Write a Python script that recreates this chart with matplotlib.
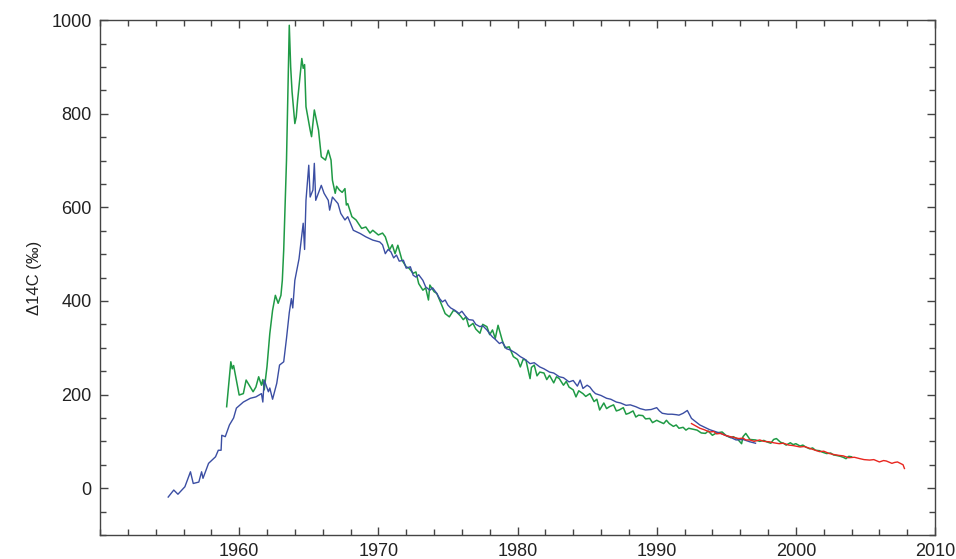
"""
Atmospheric bomb radiocarbon (Delta 14C) record, 1955-2008.
Three station records drawn as thin lines on a boxed axis.
"""

import matplotlib
matplotlib.use("Agg")
import matplotlib.pyplot as plt
from matplotlib.ticker import MultipleLocator

# Blue record
blue_years = [1954.9, 1955.3, 1955.6, 1956.1, 1956.5, 1956.7, 1957.1, 1957.3, 1957.4, 1957.8,
              1958.3, 1958.5, 1958.7, 1958.75, 1959.0, 1959.3, 1959.6, 1959.8, 1960.3, 1960.8,
              1961.2, 1961.6, 1961.7, 1961.8, 1962.1, 1962.2, 1962.4, 1962.7, 1962.9, 1963.2,
              1963.4, 1963.6, 1963.75, 1963.85, 1964.0, 1964.3, 1964.5, 1964.6, 1964.7, 1964.8,
              1965.0, 1965.1, 1965.3, 1965.4, 1965.5, 1965.9, 1966.1, 1966.4, 1966.5, 1966.7,
              1967.1, 1967.3, 1967.6, 1967.8, 1968.2, 1968.7, 1969.1, 1969.6,
              1970.1, 1970.3, 1970.5, 1970.7, 1970.9, 1971.1, 1971.3, 1971.5, 1971.8, 1972.0,
              1972.3, 1972.5, 1972.7, 1972.9, 1973.2, 1973.4, 1973.7, 1973.9, 1974.2, 1974.4,
              1974.6, 1974.8, 1975.0, 1975.2, 1975.5, 1975.8, 1976.0, 1976.3, 1976.5, 1976.8,
              1977.0, 1977.3, 1977.5, 1977.8, 1978.0, 1978.2, 1978.4, 1978.7, 1978.9, 1979.2,
              1979.5, 1979.9, 1980.2, 1980.5, 1980.9, 1981.2, 1981.6, 1981.9, 1982.3, 1982.6,
              1983.0, 1983.3, 1983.7, 1984.0, 1984.3, 1984.5, 1984.7, 1985.0, 1985.2, 1985.4,
              1985.6, 1986.0, 1986.4, 1986.7, 1987.1, 1987.4, 1987.8, 1988.1, 1988.5, 1988.8,
              1989.2, 1989.6, 1990.0, 1990.2, 1990.4, 1990.8, 1991.1, 1991.4, 1991.6, 1991.9,
              1992.2, 1992.5, 1992.8, 1993.1, 1993.8, 1994.5, 1995.2, 1995.7, 1996.2, 1996.7,
              1997.1]
blue_vals = [-19, -4, -13, 3, 35, 10, 13, 35, 21, 53,
             67, 81, 81, 113, 110, 135, 150, 171, 184, 192,
             195, 202, 184, 231, 206, 214, 190, 224, 263, 270,
             320, 375, 405, 385, 444, 490, 540, 566, 510, 615,
             690, 622, 637, 694, 615, 647, 630, 615, 594, 622,
             608, 587, 573, 580, 551, 544, 537, 530,
             526, 520, 501, 510, 505, 492, 498, 485, 487, 470,
             473, 455, 451, 456, 444, 430, 423, 428, 416, 405,
             398, 402, 391, 385, 380, 373, 378, 366, 360, 359,
             350, 345, 347, 338, 330, 323, 318, 309, 312, 298,
             295, 288, 281, 276, 266, 268, 259, 255, 248, 246,
             238, 236, 227, 230, 218, 231, 213, 220, 216, 208,
             202, 198, 192, 190, 184, 182, 177, 178, 174, 170,
             167, 168, 172, 165, 160, 158, 158, 157, 156, 160,
             166, 149, 142, 135, 125, 118, 110, 103, 104, 99,
             96]

# Green record
green_years = [1959.1, 1959.3, 1959.4, 1959.5, 1959.6, 1959.8, 1960.0, 1960.3, 1960.5, 1960.8,
               1961.0, 1961.2, 1961.4, 1961.6, 1961.7, 1961.8, 1962.0, 1962.2, 1962.4, 1962.6,
               1962.8, 1963.0, 1963.1, 1963.2, 1963.4, 1963.5, 1963.6, 1963.7, 1963.8, 1964.0,
               1964.1, 1964.2, 1964.5, 1964.6, 1964.7, 1964.8, 1965.1, 1965.2, 1965.4, 1965.7,
               1965.9, 1966.2, 1966.4, 1966.6, 1966.7, 1966.9, 1967.0, 1967.2, 1967.4, 1967.6,
               1967.7, 1967.8, 1968.1, 1968.4, 1968.8, 1969.1, 1969.4, 1969.6, 1970.0, 1970.3,
               1970.5, 1970.8, 1971.0, 1971.2, 1971.4, 1971.7, 1972.0, 1972.2, 1972.5, 1972.7,
               1972.9, 1973.2, 1973.4, 1973.6, 1973.7, 1974.0, 1974.2, 1974.5, 1974.8, 1975.1,
               1975.4, 1975.6, 1975.9, 1976.1, 1976.3, 1976.5, 1976.8, 1977.0, 1977.3, 1977.5,
               1977.8, 1978.0, 1978.2, 1978.4, 1978.6, 1978.9, 1979.1, 1979.4, 1979.7, 1980.0,
               1980.2, 1980.4, 1980.6, 1980.9, 1981.0, 1981.2, 1981.4, 1981.6, 1981.9, 1982.1,
               1982.3, 1982.6, 1982.8, 1983.0, 1983.3, 1983.5, 1983.7, 1984.0, 1984.2, 1984.4,
               1984.7, 1984.9, 1985.2, 1985.5, 1985.7, 1985.9, 1986.2, 1986.4, 1986.6, 1986.9,
               1987.1, 1987.3, 1987.6, 1987.8, 1988.0, 1988.3, 1988.5, 1988.7, 1989.0, 1989.2,
               1989.5, 1989.7, 1990.0, 1990.2, 1990.5, 1990.7, 1990.9, 1991.2, 1991.4, 1991.6,
               1991.9, 1992.1, 1992.3, 1992.6, 1992.9, 1993.2, 1993.5, 1993.7, 1994.0, 1994.3,
               1994.7, 1995.0, 1995.3, 1995.5, 1995.8, 1996.1, 1996.2, 1996.4, 1996.7, 1997.1,
               1997.4, 1997.7, 1997.9, 1998.2, 1998.4, 1998.6, 1998.9, 1999.1, 1999.3, 1999.6,
               1999.8, 2000.0, 2000.3, 2000.5, 2000.7, 2001.0, 2001.2, 2001.4, 2001.7, 2001.9,
               2002.2, 2002.5, 2002.7, 2002.9, 2003.2, 2003.4, 2003.6, 2003.8, 2004.0]
green_vals = [174, 238, 270, 255, 262, 231, 199, 202, 231, 216,
              206, 216, 238, 220, 232, 210, 260, 330, 380, 412,
              395, 412, 444, 509, 700, 850, 989, 900, 847, 779,
              793, 829, 918, 897, 905, 815, 765, 751, 808, 765,
              708, 701, 722, 701, 658, 630, 645, 637, 632, 640,
              605, 608, 580, 573, 555, 558, 545, 551, 541, 545,
              537, 509, 520, 501, 519, 487, 473, 470, 459, 462,
              437, 423, 428, 402, 434, 420, 416, 395, 373, 366,
              380, 377, 368, 360, 366, 345, 352, 340, 331, 350,
              345, 328, 338, 320, 348, 316, 300, 302, 281, 275,
              259, 275, 274, 234, 258, 263, 240, 248, 246, 232,
              241, 225, 238, 234, 220, 228, 216, 210, 195, 208,
              202, 196, 202, 185, 190, 167, 182, 170, 174, 178,
              165, 167, 172, 158, 160, 165, 152, 156, 155, 148,
              149, 140, 145, 142, 138, 145, 138, 132, 135, 128,
              130, 124, 128, 126, 124, 118, 117, 122, 113, 118,
              120, 112, 108, 110, 105, 95, 110, 117, 104, 103,
              100, 102, 99, 96, 104, 106, 98, 96, 92, 97,
              93, 95, 90, 92, 88, 84, 86, 81, 80, 77,
              74, 75, 71, 70, 68, 66, 63, 68, 67]

# Red record
red_years = [1992.5, 1992.8, 1993.1, 1993.4, 1993.8, 1994.1, 1994.3, 1994.6, 1994.9, 1995.3,
             1995.6, 1995.9, 1996.2, 1996.4, 1996.7, 1997.0, 1997.4, 1997.7, 1998.1, 1998.4,
             1998.8, 1999.1, 1999.5, 1999.8, 2000.3, 2000.6, 2001.0, 2001.3, 2001.7, 2002.0,
             2002.4, 2002.7, 2003.1, 2003.4, 2003.8, 2004.2, 2004.6, 2004.9, 2005.3, 2005.6,
             2006.0, 2006.3, 2006.5, 2006.9, 2007.1, 2007.3, 2007.5, 2007.7, 2007.8]
red_vals = [138, 133, 128, 125, 120, 121, 116, 117, 113, 110,
            108, 106, 107, 103, 103, 100, 103, 100, 99, 97,
            95, 96, 92, 91, 88, 89, 85, 82, 78, 79,
            74, 72, 70, 69, 65, 66, 63, 61, 60, 61,
            56, 59, 58, 53, 55, 56, 53, 50, 42]

x_ticks = [1960, 1970, 1980, 1990, 2000, 2010]
y_ticks = [0, 200, 400, 600, 800, 1000]

plt.rcParams['font.family'] = ['Liberation Sans', 'DejaVu Sans']

fig = plt.figure(figsize=(9.56, 5.59), dpi=100)
ax = fig.add_axes([0.1046, 0.043, 0.8735, 0.921])

ax.plot(green_years, green_vals, color='#1f9a45', lw=1.1)
ax.plot(blue_years, blue_vals, color='#3b4ea3', lw=1.0)
ax.plot(red_years, red_vals, color='#e8261f', lw=1.0)

ax.set_xlim(1950, 2010)
ax.set_ylim(-100, 1000)
ax.set_xticks(x_ticks)
ax.set_yticks(y_ticks)
ax.xaxis.set_minor_locator(MultipleLocator(2))
ax.yaxis.set_minor_locator(MultipleLocator(50))
ax.tick_params(which='both', direction='in', top=True, right=True,
               color='#444444', labelcolor='#222222', labelsize=13, width=1)
ax.tick_params(which='major', length=6, pad=6)
ax.tick_params(which='minor', length=4.5)
for s in ax.spines.values():
    s.set_color('#444444')
    s.set_linewidth(1)

ax.set_ylabel('Δ14C (‰)', fontsize=12, color='#222222', labelpad=7)

fig.savefig('out.png', dpi=100)
